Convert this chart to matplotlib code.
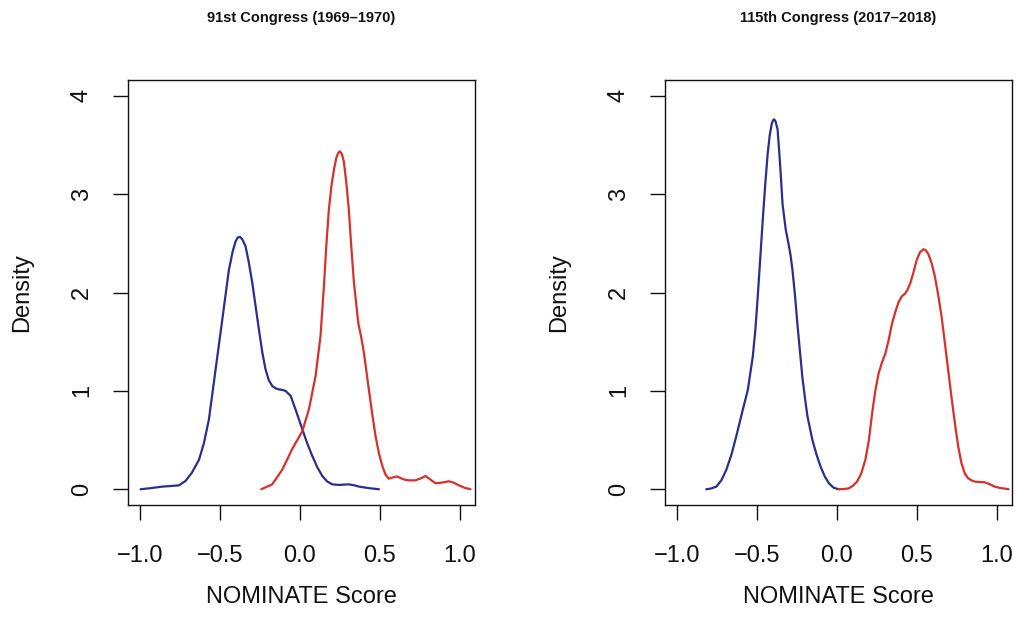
import matplotlib
matplotlib.use("Agg")
import matplotlib.pyplot as plt

# ---- data ----
titles = ["91st Congress (1969\u20131970)", "115th Congress (2017\u20132018)"]

# 91st Congress - Democrats (blue)
dem91_x = [-0.996, -0.93, -0.86, -0.79, -0.756, -0.715, -0.675, -0.631, -0.600, -0.569,
           -0.527, -0.485, -0.444, -0.420, -0.402, -0.388, -0.375, -0.360, -0.340,
           -0.320, -0.298, -0.256, -0.235, -0.215, -0.195, -0.173, -0.150, -0.131,
           -0.110, -0.090, -0.058, -0.027, 0.015, 0.045, 0.077, 0.110, 0.140, 0.170,
           0.202, 0.244, 0.275, 0.306, 0.340, 0.369, 0.430, 0.494]
dem91_y = [0.0, 0.012, 0.027, 0.035, 0.04, 0.085, 0.17, 0.30, 0.47, 0.71,
           1.22, 1.73, 2.23, 2.42, 2.52, 2.56, 2.565, 2.54, 2.47,
           2.31, 2.10, 1.62, 1.39, 1.22, 1.11, 1.05, 1.025, 1.015,
           1.01, 1.0, 0.95, 0.81, 0.61, 0.47, 0.34, 0.22, 0.135, 0.08,
           0.05, 0.044, 0.047, 0.05, 0.04, 0.027, 0.012, 0.0]
# 91st Congress - Republicans (red)
rep91_x = [-0.242, -0.173, -0.110, -0.048, 0.015, 0.056, 0.098, 0.129, 0.150, 0.165,
           0.181, 0.197, 0.213, 0.228, 0.240, 0.250, 0.262, 0.275, 0.290, 0.306,
           0.322, 0.338, 0.365, 0.383, 0.400, 0.415, 0.431, 0.452, 0.473, 0.495,
           0.515, 0.535, 0.556, 0.580, 0.608, 0.635, 0.660, 0.690, 0.723, 0.755,
           0.785, 0.815, 0.848, 0.890, 0.931, 0.965, 0.994, 1.030, 1.067]
rep91_y = [0.0, 0.05, 0.20, 0.41, 0.59, 0.81, 1.15, 1.56, 2.06, 2.47,
           2.84, 3.08, 3.25, 3.37, 3.42, 3.435, 3.41, 3.33, 3.12, 2.84,
           2.45, 2.10, 1.69, 1.55, 1.39, 1.21, 1.015, 0.77, 0.54, 0.36,
           0.24, 0.15, 0.108, 0.12, 0.13, 0.11, 0.095, 0.09, 0.091, 0.11,
           0.135, 0.10, 0.061, 0.068, 0.081, 0.065, 0.04, 0.015, 0.0]

# 115th Congress - Democrats (blue)
dem115_x = [-0.817, -0.785, -0.754, -0.723, -0.692, -0.660, -0.630, -0.589, -0.557,
            -0.526, -0.510, -0.495, -0.480, -0.464, -0.448, -0.433, -0.420, -0.408,
            -0.400, -0.392, -0.384, -0.371, -0.355, -0.340, -0.320, -0.303, -0.290,
            -0.278, -0.262, -0.247, -0.231, -0.216, -0.200, -0.184, -0.153, -0.127,
            -0.102, -0.076, -0.050, -0.020, 0.012]
dem115_y = [0.0, 0.008, 0.027, 0.09, 0.196, 0.35, 0.534, 0.805, 1.01,
            1.35, 1.62, 1.96, 2.33, 2.73, 3.10, 3.41, 3.60, 3.71,
            3.75, 3.76, 3.74, 3.66, 3.30, 2.90, 2.64, 2.50, 2.38,
            2.23, 1.97, 1.68, 1.40, 1.14, 0.93, 0.74, 0.50, 0.35,
            0.23, 0.13, 0.061, 0.015, 0.0]
# 115th Congress - Republicans (red)
rep115_x = [0.012, 0.045, 0.075, 0.100, 0.126, 0.152, 0.178, 0.200, 0.220, 0.240,
            0.261, 0.282, 0.303, 0.324, 0.344, 0.365, 0.385, 0.405, 0.427, 0.442,
            0.458, 0.478, 0.499, 0.520, 0.541, 0.556, 0.572, 0.592, 0.613, 0.634,
            0.655, 0.675, 0.696, 0.717, 0.738, 0.758, 0.779, 0.800, 0.821, 0.842,
            0.862, 0.893, 0.924, 0.955, 0.987, 1.020, 1.049, 1.074]
rep115_y = [0.0, 0.002, 0.01, 0.035, 0.078, 0.16, 0.30, 0.50, 0.77, 1.00,
            1.18, 1.29, 1.38, 1.52, 1.68, 1.80, 1.90, 1.96, 1.99, 2.03,
            2.09, 2.20, 2.33, 2.41, 2.44, 2.43, 2.39, 2.30, 2.16, 1.97,
            1.75, 1.49, 1.21, 0.93, 0.67, 0.44, 0.264, 0.16, 0.112, 0.09,
            0.078, 0.074, 0.071, 0.052, 0.027, 0.013, 0.007, 0.0]

x_ticks = [-1.0, -0.5, 0.0, 0.5, 1.0]
y_ticks = [0, 1, 2, 3, 4]
x_label = "NOMINATE Score"
y_label = "Density"

BLUE = "#27308c"
RED = "#d8302a"
INK = "#111111"

plt.rcParams['font.family'] = ['Liberation Sans', 'DejaVu Sans']

W, H = 1018, 629
fig = plt.figure(figsize=(W / 100, H / 100), dpi=100)

panels = [
    (128, (dem91_x, dem91_y), (rep91_x, rep91_y), titles[0]),
    (665, (dem115_x, dem115_y), (rep115_x, rep115_y), titles[1]),
]

top_px, bot_px, w_px = 80, 505, 347
for left_px, dem, rep, title in panels:
    ax = fig.add_axes([left_px / W, 1 - bot_px / H, w_px / W, (bot_px - top_px) / H])
    ax.plot(dem[0], dem[1], color=BLUE, lw=1.6, solid_capstyle='round',
            solid_joinstyle='round')
    ax.plot(rep[0], rep[1], color=RED, lw=1.6, solid_capstyle='round',
            solid_joinstyle='round')
    ax.set_xlim(-1.075, 1.095)
    ax.set_ylim(-0.16, 4.16)
    ax.set_xticks(x_ticks)
    ax.set_xticklabels([f"{v:.1f}".replace("-", "\u2212") for v in x_ticks])
    ax.set_yticks(y_ticks)
    ax.set_yticklabels([str(v) for v in y_ticks])
    ax.tick_params(axis='both', direction='out', length=10.8, width=1.0,
                   labelsize=17, color=INK, labelcolor=INK)
    ax.tick_params(axis='x', pad=18)
    ax.tick_params(axis='y', pad=14.5, labelrotation=90)
    for lab in ax.get_yticklabels():
        lab.set_va('center')
    for sp in ax.spines.values():
        sp.set_linewidth(1.0)
        sp.set_color(INK)
    ax.set_xlabel(x_label, fontsize=17, color=INK)
    ax.xaxis.set_label_coords(0.5, -(597 - bot_px) / (bot_px - top_px))
    ax.xaxis.label.set_va('center')
    ax.set_ylabel(y_label, fontsize=17, color=INK)
    ax.yaxis.set_label_coords(-(106) / w_px, 0.5)
    ax.yaxis.label.set_va('center')
    ax.text(0.5, 1 + (top_px - 17.5) / (bot_px - top_px), title,
            transform=ax.transAxes, ha='center', va='center',
            fontsize=10.5, fontweight='bold', color=INK)

fig.savefig("out.png", dpi=100)
